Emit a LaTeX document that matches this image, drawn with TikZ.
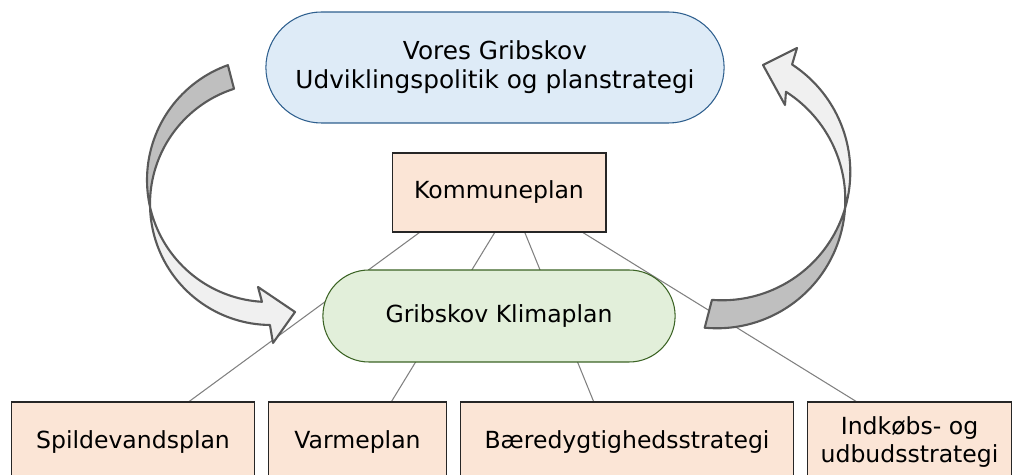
\documentclass[tikz,border=0pt]{standalone}
\usepackage{fontspec}
\setmainfont{DejaVu Sans}
\usetikzlibrary{positioning,shapes.misc,calc,backgrounds}

\definecolor{peach}{HTML}{FBE5D6}
\definecolor{paleblue}{HTML}{DEEBF7}
\definecolor{oceanblue}{HTML}{2E5F8E}
\definecolor{palegreen}{HTML}{E2EFDA}
\definecolor{leafgreen}{HTML}{3B6324}
\definecolor{turngray}{HTML}{595959}

\tikzset{
  plan/.style={draw=black!85, line width=0.6pt, fill=peach, align=center,
    minimum height=1.6cm, inner sep=2pt, font=\fontsize{13.4}{16.5}\selectfont},
  vision/.style={rounded rectangle, draw=oceanblue, line width=0.6pt, fill=paleblue,
    align=center, font=\fontsize{14.1}{16.5}\selectfont},
  klima/.style={rounded rectangle, draw=leafgreen, line width=0.6pt, fill=palegreen,
    font=\fontsize{13.4}{16.5}\selectfont},
  link/.style={draw=black!50, line width=0.6pt},
  backturn/.style={draw=turngray, line width=1.2pt, fill=black!25, line join=round},
  frontturn/.style={draw=turngray, line width=1.2pt, fill=black!6, line join=round},
  arc/.style={samples=40}
}

\begin{document}
\begin{tikzpicture}[x=0.02cm, y=-0.02cm, node distance=0.26cm]
	\path[use as bounding box, clip] (0,0) rectangle (1016,475);
	% Draw the plans
	\node[vision, minimum width=9.4cm, minimum height=2.22cm] (vision) at (495,67.5)
		{Vores Gribskov\\Udviklingspolitik og planstrategi};
	\node[plan, minimum width=4.28cm, minimum height=1.58cm] (komm) at (499,192.5) {Kommuneplan};
	\node[klima, minimum width=7.28cm, minimum height=1.84cm] (klima) at (499,316) {Gribskov Klimaplan};
	\node[plan, minimum width=4.86cm] (spild) at (133,442) {Spildevandsplan};
	\node[plan, minimum width=3.56cm, right=of spild] (varme) {Varmeplan};
	\node[plan, minimum width=6.66cm, right=of varme] (baered) {Bæredygtighedsstrategi};
	\node[plan, minimum width=4.08cm, right=of baered] (indkob) {Indkøbs- og\\udbudsstrategi};
	% Connect the plans with lines
	\begin{scope}[on background layer]
		\draw[link] ($(komm.south west)!0.13!(komm.south east)$) -- ($(spild.north west)!0.73!(spild.north east)$);
		\draw[link] ($(komm.south west)!0.48!(komm.south east)$) -- ($(varme.north west)!0.69!(varme.north east)$);
		\draw[link] ($(komm.south west)!0.62!(komm.south east)$) -- ($(baered.north west)!0.40!(baered.north east)$);
		\draw[link] ($(komm.south west)!0.89!(komm.south east)$) -- ($(indkob.north west)!0.24!(indkob.north east)$);
	\end{scope}
	% Left turning arrow (down to the climate plan)
	\filldraw[backturn] plot[arc, domain=250.3:167.2] ({269+122*cos(\x)}, {180+122*sin(\x)})
		-- plot[arc, domain=178.6:252.2] ({271+121*cos(\x)}, {204+121*sin(\x)}) -- cycle;
	\filldraw[frontturn] plot[arc, domain=178.6:90.5] ({271+121*cos(\x)}, {204+121*sin(\x)})
		-- (273,343) -- (295,312) -- (258,287)
		-- plot[arc, domain=93.3:167.2] ({269+122*cos(\x)}, {180+122*sin(\x)}) -- cycle;
	% Right turning arrow (back up to the strategy)
	\filldraw[backturn] plot[arc, domain=95.5:4] ({717+128.3*cos(\x)}, {200+128.3*sin(\x)})
		-- plot[arc, domain=16.7:94.5] ({722+128.3*cos(\x)}, {172+128.3*sin(\x)}) -- cycle;
	\filldraw[frontturn] plot[arc, domain=16.7:-56.9] ({722+128.3*cos(\x)}, {172+128.3*sin(\x)})
		-- (797,48) -- (763,65) -- (785,105)
		-- plot[arc, domain=-57.5:4] ({717+128.3*cos(\x)}, {200+128.3*sin(\x)}) -- cycle;
\end{tikzpicture}
\end{document}
